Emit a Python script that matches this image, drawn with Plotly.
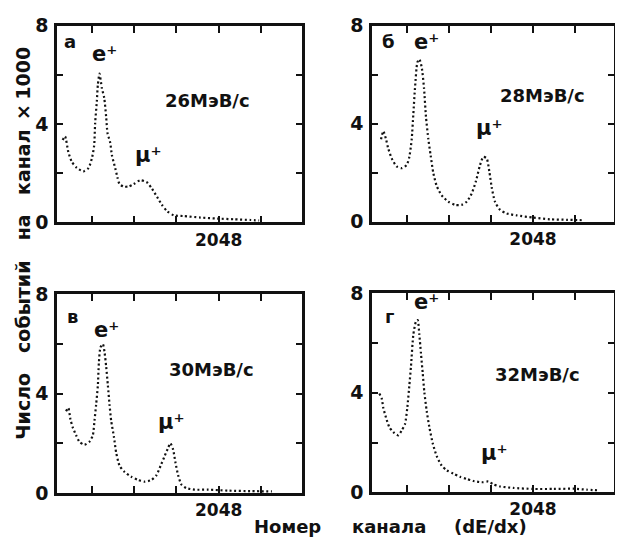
import plotly.graph_objects as go

# ---- data (channel number, events per channel x1000) ----
ch_a = [154, 183, 223, 264, 325, 406, 467, 508, 536, 548, 569, 581, 601, 630, 658, 682, 698, 731, 752, 792, 820, 844, 893, 954, 1015, 1097, 1178, 1239, 1300, 1361, 1422, 1503, 1625, 1828, 2032, 2234, 2438, 2539]
val_a = [3.35, 3.5, 2.86, 2.47, 2.22, 2.08, 2.21, 2.6, 3.12, 4.03, 4.94, 5.6, 6.05, 5.46, 5.07, 4.29, 3.64, 3.25, 2.73, 2.21, 1.82, 1.56, 1.46, 1.46, 1.56, 1.72, 1.63, 1.37, 1.04, 0.71, 0.46, 0.29, 0.26, 0.2, 0.16, 0.13, 0.1, 0.08]

ch_b = [195, 223, 256, 284, 325, 386, 447, 508, 540, 569, 589, 609, 638, 662, 691, 719, 743, 772, 800, 832, 873, 934, 1015, 1097, 1178, 1239, 1300, 1353, 1402, 1442, 1483, 1515, 1544, 1584, 1645, 1727, 1849, 2051, 2255, 2458, 2661]
val_b = [3.36, 3.69, 3.36, 2.97, 2.58, 2.25, 2.18, 2.31, 2.64, 3.36, 4.4, 5.45, 6.5, 6.63, 6.3, 5.45, 4.27, 3.36, 2.7, 1.99, 1.46, 1.07, 0.81, 0.68, 0.68, 0.81, 1.14, 1.66, 2.31, 2.64, 2.58, 2.05, 1.4, 0.81, 0.48, 0.33, 0.25, 0.16, 0.09, 0.07, 0.05]

ch_v = [195, 223, 248, 276, 317, 357, 418, 479, 520, 540, 560, 581, 593, 613, 642, 662, 682, 703, 723, 743, 776, 804, 844, 905, 987, 1069, 1149, 1231, 1292, 1344, 1393, 1434, 1462, 1495, 1523, 1556, 1597, 1657, 1759, 1922, 2166, 2450, 2694]
val_v = [3.3, 3.43, 2.97, 2.65, 2.33, 2.07, 1.95, 2.07, 2.33, 2.91, 3.56, 4.33, 5.23, 5.87, 6.0, 5.68, 5.1, 4.33, 3.56, 2.91, 2.27, 1.62, 1.11, 0.85, 0.66, 0.53, 0.46, 0.53, 0.72, 1.11, 1.5, 1.82, 2.01, 1.75, 1.24, 0.72, 0.34, 0.2, 0.14, 0.14, 0.1, 0.08, 0.07]

ch_g = [174, 203, 223, 256, 296, 345, 406, 447, 487, 515, 540, 560, 589, 621, 642, 662, 682, 703, 723, 752, 784, 825, 873, 934, 996, 1076, 1158, 1239, 1320, 1422, 1503, 1564, 1645, 1808, 2051, 2295, 2539, 2702, 2864]
val_g = [3.97, 3.78, 3.39, 3.0, 2.62, 2.42, 2.29, 2.49, 2.74, 3.39, 4.29, 5.06, 6.35, 6.87, 6.93, 6.35, 5.58, 4.8, 4.03, 3.26, 2.62, 1.97, 1.46, 1.07, 0.88, 0.75, 0.62, 0.53, 0.45, 0.4, 0.43, 0.32, 0.23, 0.17, 0.13, 0.13, 0.14, 0.1, 0.07]

panel_letters = ["а", "б", "в", "г"]
momenta = ["26МэВ/с", "28МэВ/с", "30МэВ/с", "32МэВ/с"]
y_label_vals = [0, 4, 8]
y_minor_vals = [2, 6]
x_label_vals = [2048]
x_minor_vals = [512, 1024, 1536, 2560]
x_title_words = ["Номер", "канала", "(dE/dx)"]
y_title_words = ["Число", "событий", "на", "канал", "×", "1000"]
peak_e = "e⁺"
peak_mu = "μ⁺"

W, H = 623, 547
OFF = 8  # page offset of the figure inside the browser window
FONT = "DejaVu Sans"
INK = "#111111"

def px_x(p):
    return (p - OFF) / W

def px_y(p):
    return 1 - (p - OFF) / H

# panel boxes in window pixels: (left, right, top, bottom)
boxes = [(57, 302, 15, 220), (372, 614, 15, 219), (57, 302, 295, 502), (372, 614, 294, 501)]
series = [(ch_a, val_a), (ch_b, val_b), (ch_v, val_v), (ch_g, val_g)]
x_ranges = [[85, 3060], [85, 3035], [85, 3060], [85, 3035]]

fig = go.Figure()
for i, ((l, r, t, b), (xs, ys)) in enumerate(zip(boxes, series)):
    n = "" if i == 0 else str(i + 1)
    fig.add_trace(go.Scatter(
        x=xs, y=ys, mode="lines", xaxis="x" + n, yaxis="y" + n,
        line=dict(color=INK, width=2.2, dash="2px,2.6px", shape="spline", smoothing=0.6),
        showlegend=False, hoverinfo="skip"))
    common = dict(showline=True, linewidth=2.6, linecolor=INK, mirror="ticks",
                  ticks="inside", tickwidth=2, tickcolor=INK, showgrid=False, zeroline=False,
                  fixedrange=True, tickmode="array")
    fig.update_layout(**{
        "xaxis" + n: dict(domain=[px_x(l), px_x(r)], range=x_ranges[i], tickvals=x_label_vals,
                          ticklen=7, ticklabelstandoff=0, anchor="y" + n,
                          minor=dict(tickmode="array", tickvals=x_minor_vals, ticks="inside",
                                     ticklen=7, tickwidth=2, tickcolor=INK, showgrid=False),
                          tickfont=dict(family=FONT, size=17, color=INK, weight="bold"), **common),
        "yaxis" + n: dict(domain=[px_y(b), px_y(t)], range=[0, 8], tickvals=y_label_vals,
                          ticklen=6, ticklabelstandoff=2, anchor="x" + n,
                          minor=dict(tickmode="array", tickvals=y_minor_vals, ticks="inside",
                                     ticklen=6, tickwidth=2, tickcolor=INK, showgrid=False),
                          tickfont=dict(family=FONT, size=19, color=INK, weight="bold"), **common),
    })

ann = []
def add_text(x, y, text, size=18, angle=0):
    ann.append(dict(x=px_x(x), y=px_y(y), xref="paper", yref="paper", text=text, showarrow=False,
                    xanchor="center", yanchor="middle", textangle=angle,
                    font=dict(family=FONT, size=size, color=INK, weight="bold")))

letter_pos = [(70, 31), (388, 31), (72, 318), (389, 318)]
e_pos = [(104, 44), (426, 32), (106, 332), (426, 303)]
mom_pos = [(207, 93), (542, 88), (211, 373), (537, 378)]
mu_pos = [(148, 150), (489, 122), (171, 428), (494, 460)]
for i in range(4):
    add_text(*letter_pos[i], panel_letters[i], size=18)
    add_text(*e_pos[i], peak_e, size=21)
    add_text(*mom_pos[i], momenta[i], size=18)
    add_text(*mu_pos[i], peak_mu, size=21)

x_word_pos = [287, 389, 490]
for w, xc in zip(x_title_words, x_word_pos):
    add_text(xc, 537, w, size=18)

y_word_pos = [412, 308, 225, 157, 105, 65]
for w, yc in zip(y_title_words, y_word_pos):
    add_text(23, yc, w, size=19, angle=-90)

fig.update_layout(width=W, height=H, margin=dict(l=0, r=0, t=0, b=0),
                  paper_bgcolor="white", plot_bgcolor="white", annotations=ann)
fig.write_html("out.html")
